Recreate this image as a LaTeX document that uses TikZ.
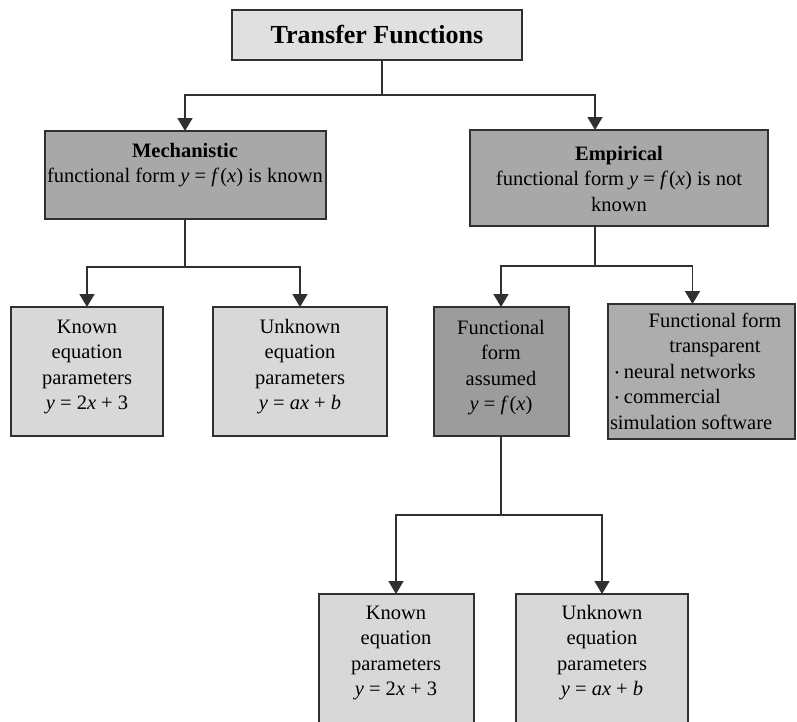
\documentclass[tikz,border=0pt]{standalone}
\usepackage{fontspec}
\setmainfont{Liberation Serif}
\usetikzlibrary{arrows.meta}
\definecolor{topfill}{HTML}{E0E0E0}
\definecolor{midfill}{HTML}{A8A8A8}
\definecolor{leaffill}{HTML}{D8D8D8}
\definecolor{ffafill}{HTML}{9C9C9C}
\definecolor{fftfill}{HTML}{ADADAD}
\definecolor{edge}{HTML}{303030}
\newcommand{\boxcontent}[4]{\parbox[c][#2][t]{#1}{\centering\rule{0pt}{#3}#4}}
\newcommand{\iv}[1]{\textit{#1}}
\tikzset{
  boxnode/.style={draw=edge, line width=2pt, inner sep=0pt, outer sep=0pt,
    font=\fontsize{20.5}{25.5}\selectfont},
  link/.style={draw=edge, line width=1.6pt, -{Triangle[width=15pt,length=13pt]}}
}
\begin{document}
\begin{tikzpicture}[x=1pt,y=-1pt]
\useasboundingbox[fill=white] (0,0) rectangle (797,721);
\begin{scope}
\clip (0,0) rectangle (797,721);
\node[boxnode, fill=topfill] (top) at (377,35)
  {\parbox[c][50pt][c]{290pt}{\centering\fontsize{26}{30}\selectfont\bfseries Transfer Functions}};
\node[boxnode, fill=midfill] (mech) at (185,175)
  {\boxcontent{281pt}{88pt}{26pt}{\textbf{Mechanistic}\\functional form \iv{y} = \iv{f}\kern1pt(\iv{x}) is known}};
\node[boxnode, fill=midfill] (emp) at (619,178)
  {\boxcontent{298pt}{96pt}{30pt}{\textbf{Empirical}\\functional form \iv{y} = \iv{f}\kern1pt(\iv{x}) is not\\known}};
\node[boxnode, fill=leaffill] (k1) at (87,371.5)
  {\boxcontent{152pt}{129pt}{26pt}{Known\\equation\\parameters\\\iv{y} = 2\iv{x} + 3}};
\node[boxnode, fill=leaffill] (u1) at (300,371.5)
  {\boxcontent{174pt}{129pt}{26pt}{Unknown\\equation\\parameters\\\iv{y} = \iv{ax} + \iv{b}}};
\node[boxnode, fill=ffafill] (ffa) at (501,371.5)
  {\boxcontent{135pt}{129pt}{27pt}{Functional\\form\\assumed\\\iv{y} = \iv{f}\kern1pt(\iv{x})}};
\node[boxnode, fill=fftfill] (fft) at (701.5,371.5)
  {\boxcontent{187pt}{135pt}{23pt}{\hspace*{27pt}Functional form\\\hspace*{27pt}transparent\par
   \raggedright\hspace*{7pt}\raisebox{2pt}{\fontsize{11}{11}\selectfont\textbullet}\ neural networks\\
   \hspace*{7pt}\raisebox{2pt}{\fontsize{11}{11}\selectfont\textbullet}\ commercial\\
   \hspace*{2pt}simulation software}};
\node[boxnode, fill=leaffill] (k2) at (396,667)
  {\boxcontent{155pt}{146pt}{25pt}{Known\\equation\\parameters\\\iv{y} = 2\iv{x} + 3}};
\node[boxnode, fill=leaffill] (u2) at (602,667)
  {\boxcontent{172pt}{146pt}{25pt}{Unknown\\equation\\parameters\\\iv{y} = \iv{ax} + \iv{b}}};
\end{scope}
\draw[link] ([xshift=5pt]top.south) |- ([yshift=36pt]mech.north) -- (mech.north);
\draw[link] ([xshift=5pt]top.south) |- ([xshift=-24pt,yshift=35pt]emp.north) -- ([xshift=-24pt]emp.north);
\draw[link] (mech.south) |- ([yshift=40pt]k1.north) -- (k1.north);
\draw[link] (mech.south) |- ([yshift=40pt]u1.north) -- (u1.north);
\draw[link] ([xshift=-24pt]emp.south) |- ([yshift=41pt]ffa.north) -- (ffa.north);
\draw[link] ([xshift=-24pt]emp.south) |- ([xshift=-9pt,yshift=38pt]fft.north) -- ([xshift=-9pt]fft.north);
\draw[link] (ffa.south) |- ([yshift=79pt]k2.north) -- (k2.north);
\draw[link] (ffa.south) |- ([yshift=79pt]u2.north) -- (u2.north);
\end{tikzpicture}
\end{document}
